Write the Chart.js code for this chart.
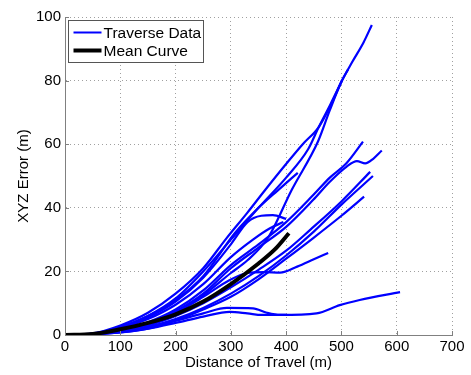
<!DOCTYPE html>
<html>
<head>
<meta charset="utf-8">
<script src="https://cdn.jsdelivr.net/npm/chart.js@4"></script>
<style>
  html, body { margin: 0; padding: 0; background: #fff; }
  #wrap { width: 471px; height: 375px; position: relative; }
</style>
</head>
<body>
<div id="wrap"><canvas id="errChart"></canvas></div>
<script>
// axis ranges / ticks
const xTicks = [0, 100, 200, 300, 400, 500, 600, 700];
const yTicks = [0, 20, 40, 60, 80, 100];

// traverse runs as [distance (m), XYZ error (m)]
const run01 = [[0,0],[50,0.5],[100,3],[150,7],[200,13],[250,21],[292,30.4],[330,38.5],[362,45.6],[401,54],[430,60],[459,65.4],[480,72],[501,80],[520,86],[540,92],[555,97.5]];
const run02 = [[0,0],[50,0.3],[100,1.5],[150,3.5],[200,7],[250,12.5],[300,19.5],[330,23.5],[367,30.5],[410,45.6],[458,61],[479,70.7],[501,80],[512,83.5]];
const run03 = [[0,0],[50,0.4],[100,2.5],[150,6],[200,11.5],[250,20],[300,30],[350,40],[400,49.5],[440,58.5],[459,65.4],[480,72.5],[501,80]];
const run04 = [[0,0],[50,0.4],[100,2.5],[150,6],[200,11],[250,18.5],[307,32],[350,40],[385,45.5],[421,51]];
const run05 = [[0,0],[50,0.4],[100,2.2],[150,5.5],[200,10.5],[250,18],[300,28.5],[330,35.5],[355,37.5],[376,37.7],[400,36.5]];
const run06 = [[0,0],[50,0.3],[100,1.5],[150,4],[200,8],[250,14],[300,22],[350,28.5],[400,35.5],[449,44],[479,49.5],[509,54],[539,60.8]];
const run07 = [[0,0],[50,0.3],[100,1.4],[150,3.7],[200,7.5],[250,13],[300,21],[350,27.5],[400,34],[449,42.5],[479,48.2],[509,52.9],[528,54.7],[543,54],[558,55.5],[573,58]];
const run08 = [[0,0],[50,0.3],[100,1.2],[150,3],[200,6],[250,10],[300,15],[350,20.5],[400,26.5],[443,33],[500,42],[552,51.3]];
const run09 = [[0,0],[50,0.3],[100,1],[150,2.5],[200,5],[250,8.5],[300,13],[350,18.5],[400,25],[450,32.5],[500,41],[557,50]];
const run10 = [[0,0],[50,0.3],[100,0.8],[150,2],[200,4.5],[250,8],[300,12],[350,17.5],[400,24],[449,30.5],[500,37.5],[541,43.5]];
const run11 = [[0,0],[50,0.3],[100,1.5],[150,3.5],[200,7],[250,12],[298,17.3],[330,19.5],[360,19.8],[389,19.6],[420,21.5],[450,23.8],[476,25.8]];
const run12 = [[0,0],[50,0.3],[100,1],[150,2.5],[200,4.5],[250,6.8],[293,8.5],[340,8.4],[365,7],[389,6.3],[455,6.8],[497,9.4],[533,11],[606,13.5]];
const run13 = [[0,0],[50,0.2],[100,0.8],[150,2],[200,3.8],[250,5.8],[298,7.3],[330,6.8],[356,6.3],[400,6.3]];
const run14 = [[0,0],[50,0.4],[100,2],[150,5],[200,9.5],[250,16],[300,24.5],[340,30],[370,33.5],[395,35.5]];
const meanCurve = [[0,0],[50,0.3],[100,1.8],[150,3.8],[200,6.5],[250,10.5],[300,16],[350,22.5],[380,27],[405,32]];

const traverseRuns = [run01, run02, run03, run04, run05, run06, run07, run08, run09, run10, run11, run12, run13, run14];

const toPoints = arr => arr.map(p => ({x: p[0], y: p[1]}));

const datasets = [{
  label: 'Mean Curve',
  data: toPoints(meanCurve),
  borderColor: '#000000',
  borderWidth: 4,
  order: -1
}];
traverseRuns.forEach(run => {
  datasets.push({
    label: 'Traverse Data',
    data: toPoints(run),
    borderColor: '#0000ff',
    borderWidth: 2.2
  });
});

// matlab-style inward ticks + boxed legend inside the plot
const axesExtras = {
  id: 'axesExtras',
  afterDraw(chart) {
    const ctx = chart.ctx;
    const a = chart.chartArea;
    const xs = chart.scales.x, ys = chart.scales.y;
    ctx.save();
    ctx.strokeStyle = '#808080';
    ctx.lineWidth = 1;
    ctx.beginPath();
    xTicks.forEach(v => {
      const px = Math.round(xs.getPixelForValue(v)) + 0.5;
      ctx.moveTo(px, a.bottom); ctx.lineTo(px, a.bottom - 4);
    });
    yTicks.forEach(v => {
      const py = Math.round(ys.getPixelForValue(v)) + 0.5;
      ctx.moveTo(a.left, py); ctx.lineTo(a.left + 4, py);
    });
    ctx.stroke();

    // legend
    const bx = a.left + 3.5, by = a.top + 3.5, bw = 135, bh = 42;
    ctx.fillStyle = '#fff';
    ctx.fillRect(bx, by, bw, bh);
    ctx.strokeStyle = '#555';
    ctx.strokeRect(bx, by, bw, bh);
    const items = [
      {text: 'Traverse Data', color: '#0000ff', w: 2, y: by + 12},
      {text: 'Mean Curve', color: '#000000', w: 4, y: by + 30}
    ];
    ctx.font = '15.5px "Liberation Sans", Arial, sans-serif';
    ctx.textBaseline = 'middle';
    items.forEach(it => {
      ctx.strokeStyle = it.color;
      ctx.lineWidth = it.w;
      ctx.beginPath();
      ctx.moveTo(bx + 5, it.y); ctx.lineTo(bx + 33, it.y);
      ctx.stroke();
      ctx.fillStyle = '#000';
      ctx.fillText(it.text, bx + 35, it.y + 1);
    });
    ctx.restore();
  }
};

const tickFont = {family: '"Liberation Sans", Arial, sans-serif', size: 15};

new Chart(document.getElementById('errChart').getContext('2d'), {
  type: 'line',
  data: { datasets },
  options: {
    responsive: true,
    maintainAspectRatio: false,
    animation: false,
    layout: { padding: { top: 17, right: 19, left: 0, bottom: 0 } },
    elements: {
      point: { radius: 0 },
      line: { cubicInterpolationMode: 'monotone', fill: false }
    },
    plugins: { legend: { display: false }, tooltip: { enabled: false } },
    scales: {
      x: {
        type: 'linear',
        min: 0, max: 700,
        afterBuildTicks: s => { s.ticks = xTicks.map(v => ({value: v})); },
        afterFit: s => { s.height = 40; },
        ticks: { color: '#000', font: tickFont, padding: 3, maxRotation: 0 },
        grid: { color: '#a0a0a0', drawTicks: false, lineWidth: 1 },
        border: { color: '#808080', dash: [1, 3] },
        title: { display: true, text: 'Distance of Travel (m)', color: '#000', font: tickFont, padding: {top: 0, bottom: 3} }
      },
      y: {
        min: 0, max: 100,
        afterBuildTicks: s => { s.ticks = yTicks.map(v => ({value: v})); },
        afterFit: s => { s.width = 65; },
        ticks: { color: '#000', font: tickFont, padding: 4 },
        grid: { color: '#a0a0a0', drawTicks: false, lineWidth: 1 },
        border: { color: '#808080', dash: [1, 3] },
        title: { display: true, text: 'XYZ Error (m)', color: '#000', font: tickFont, padding: {top: 15, bottom: 0} }
      }
    }
  },
  plugins: [axesExtras]
});
</script>
</body>
</html>
